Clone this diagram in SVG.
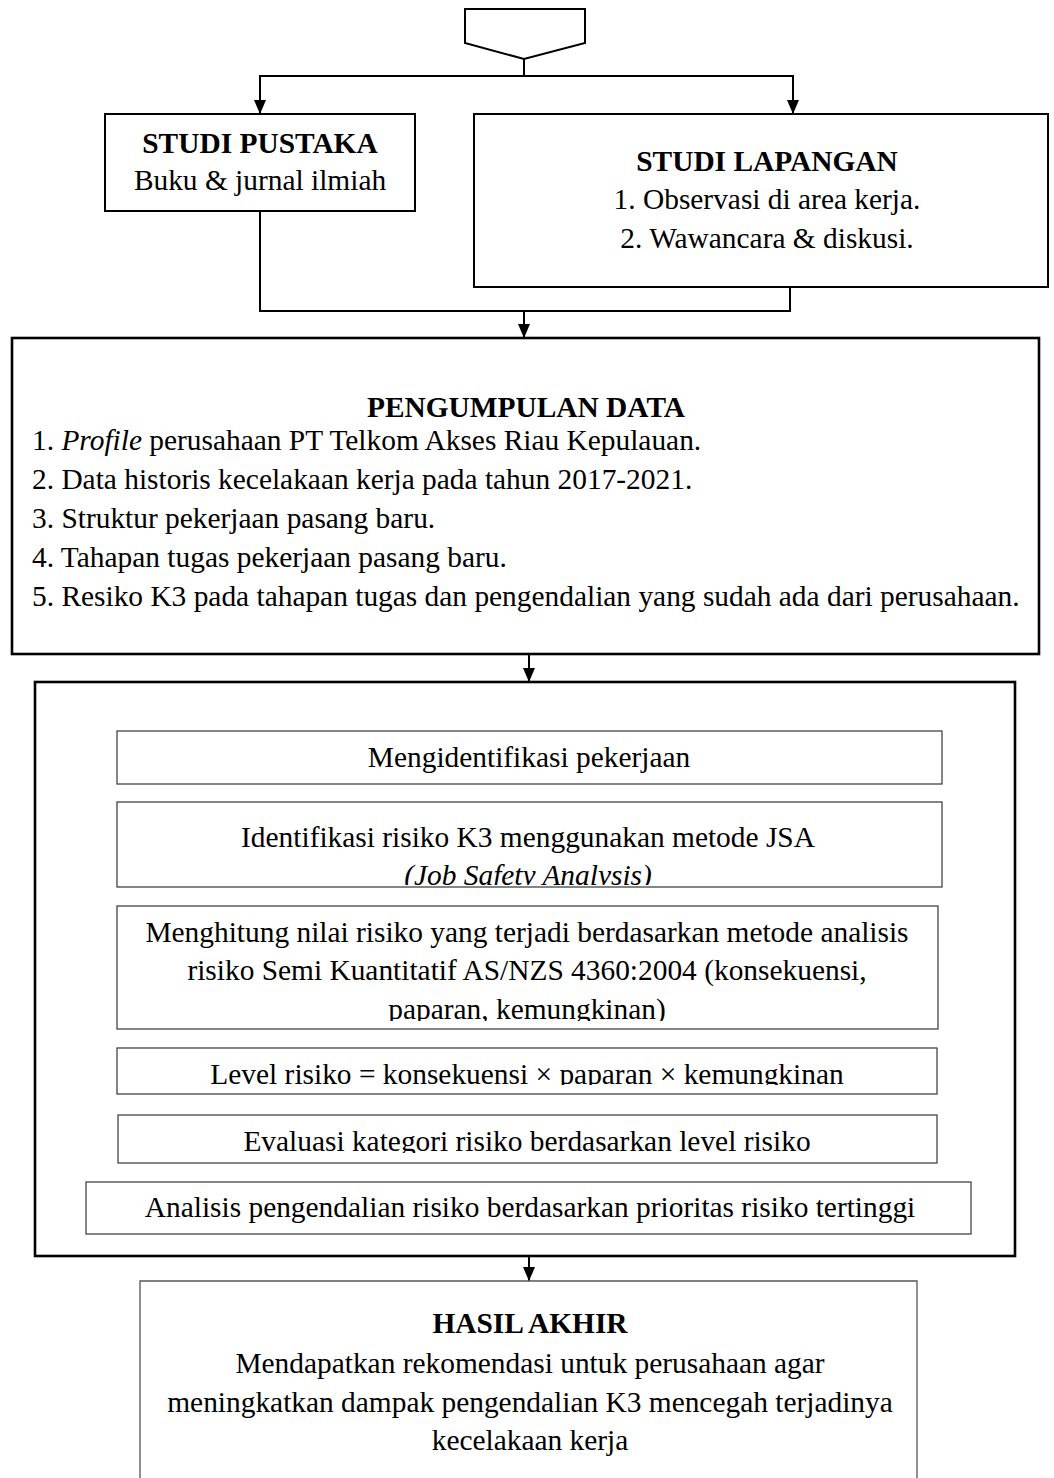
<svg xmlns="http://www.w3.org/2000/svg" width="1054" height="1478" viewBox="0 0 1054 1478">
<style>
  text { font-family: "Liberation Serif", "Times New Roman", serif; font-size: 29.4px; fill: #000; }
  .b { font-weight: bold; }
  .c { text-anchor: middle; }
  .i { font-style: italic; }
  .box { fill: #fff; stroke: #000; stroke-width: 2; }
  .thick { fill: #fff; stroke: #000; stroke-width: 2.6; }
  .thin { fill: #fff; stroke: #444; stroke-width: 1.3; }
  .ln { fill: none; stroke: #000; stroke-width: 2; }
</style>
<defs>
  <marker id="ah" markerUnits="userSpaceOnUse" markerWidth="14" markerHeight="14" viewBox="0 0 14 14" refX="14" refY="7" orient="auto">
    <path d="M0,1 L14,7 L0,13 Z" fill="#000"/>
  </marker>
  <clipPath id="c2"><rect x="117" y="802" width="825" height="83"/></clipPath>
  <clipPath id="c3"><rect x="117" y="906" width="821" height="115"/></clipPath>
  <clipPath id="c4"><rect x="117" y="1048" width="820" height="37"/></clipPath>
  <clipPath id="c5"><rect x="118" y="1115" width="819" height="38"/></clipPath>
</defs>
<rect width="1054" height="1478" fill="#fff"/>

<g id="connectors">
  <line class="ln" x1="524" y1="59" x2="524" y2="76"/>
  <line class="ln" x1="259" y1="76" x2="794" y2="76"/>
  <line class="ln" x1="260" y1="76" x2="260" y2="114" marker-end="url(#ah)"/>
  <line class="ln" x1="793" y1="76" x2="793" y2="114" marker-end="url(#ah)"/>
  <polyline class="ln" points="260,211 260,311 790,311 790,287"/>
  <line class="ln" x1="524" y1="311" x2="524" y2="338" marker-end="url(#ah)"/>
  <line class="ln" x1="529" y1="654" x2="529" y2="682" marker-end="url(#ah)"/>
  <line class="ln" x1="529" y1="784" x2="529" y2="802" marker-end="url(#ah)"/>
  <line class="ln" x1="529" y1="887" x2="529" y2="906" marker-end="url(#ah)"/>
  <line class="ln" x1="529" y1="1029" x2="529" y2="1048" marker-end="url(#ah)"/>
  <line class="ln" x1="529" y1="1094" x2="529" y2="1115" marker-end="url(#ah)"/>
  <line class="ln" x1="529" y1="1163" x2="529" y2="1182" marker-end="url(#ah)"/>
  <line class="ln" x1="529" y1="1256" x2="529" y2="1281" marker-end="url(#ah)"/>
</g>

<g id="start">
  <polygon class="box" points="465,9 585,9 585,43 524,59 465,43"/>
</g>

<g id="studi-pustaka">
  <rect class="box" x="105" y="114" width="310" height="97"/>
  <text class="c b" x="260" y="153">STUDI PUSTAKA</text>
  <text class="c" x="260" y="190">Buku &amp; jurnal ilmiah</text>
</g>

<g id="studi-lapangan">
  <rect class="box" x="474" y="114" width="574" height="173"/>
  <text class="c b" x="767" y="171">STUDI LAPANGAN</text>
  <text class="c" x="767" y="209">1. Observasi di area kerja.</text>
  <text class="c" x="767" y="248">2. Wawancara &amp; diskusi.</text>
</g>

<g id="pengumpulan-data">
  <rect class="thick" x="12" y="338" width="1027" height="316"/>
  <text class="c b" x="526" y="417">PENGUMPULAN DATA</text>
  <text x="32" y="450">1. <tspan class="i">Profile</tspan> perusahaan PT Telkom Akses Riau Kepulauan.</text>
  <text x="32" y="489">2. Data historis kecelakaan kerja pada tahun 2017-2021.</text>
  <text x="32" y="528">3. Struktur pekerjaan pasang baru.</text>
  <text x="32" y="567">4. Tahapan tugas pekerjaan pasang baru.</text>
  <text x="32" y="606">5. Resiko K3 pada tahapan tugas dan pengendalian yang sudah ada dari perusahaan.</text>
</g>

<g id="analisis-container">
  <rect class="thick" x="35" y="682" width="980" height="574" fill="none"/>
</g>

<g id="mengidentifikasi">
  <rect class="thin" x="117" y="731" width="825" height="53"/>
  <text class="c" x="529" y="767">Mengidentifikasi pekerjaan</text>
</g>

<g id="identifikasi-risiko">
  <rect class="thin" x="117" y="802" width="825" height="85"/>
  <g clip-path="url(#c2)">
    <text class="c" x="528" y="847">Identifikasi risiko K3 menggunakan metode JSA</text>
    <text class="c i" x="528" y="885">(Job Safety Analysis)</text>
  </g>
</g>

<g id="menghitung">
  <rect class="thin" x="117" y="906" width="821" height="123"/>
  <g clip-path="url(#c3)">
    <text class="c" x="527" y="942">Menghitung nilai risiko yang terjadi berdasarkan metode analisis</text>
    <text class="c" x="527" y="980">risiko Semi Kuantitatif AS/NZS 4360:2004 (konsekuensi,</text>
    <text class="c" x="527" y="1019">paparan, kemungkinan)</text>
  </g>
</g>

<g id="level-risiko">
  <rect class="thin" x="117" y="1048" width="820" height="46"/>
  <g clip-path="url(#c4)">
    <text class="c" x="527" y="1084">Level risiko = konsekuensi × paparan × kemungkinan</text>
  </g>
</g>

<g id="evaluasi">
  <rect class="thin" x="118" y="1115" width="819" height="48"/>
  <g clip-path="url(#c5)">
    <text class="c" x="527" y="1151">Evaluasi kategori risiko berdasarkan level risiko</text>
  </g>
</g>

<g id="analisis-pengendalian">
  <rect class="thin" x="86" y="1182" width="885" height="52"/>
  <text class="c" x="530" y="1217">Analisis pengendalian risiko berdasarkan prioritas risiko tertinggi</text>
</g>

<g id="hasil-akhir">
  <path d="M140,1478 L140,1281 L917,1281 L917,1478" fill="#fff" stroke="#555" stroke-width="1.3"/>
  <text class="c b" x="530" y="1333">HASIL AKHIR</text>
  <text class="c" x="530" y="1373">Mendapatkan rekomendasi untuk perusahaan agar</text>
  <text class="c" x="530" y="1412">meningkatkan dampak pengendalian K3 mencegah terjadinya</text>
  <text class="c" x="530" y="1450">kecelakaan kerja</text>
</g>
</svg>
